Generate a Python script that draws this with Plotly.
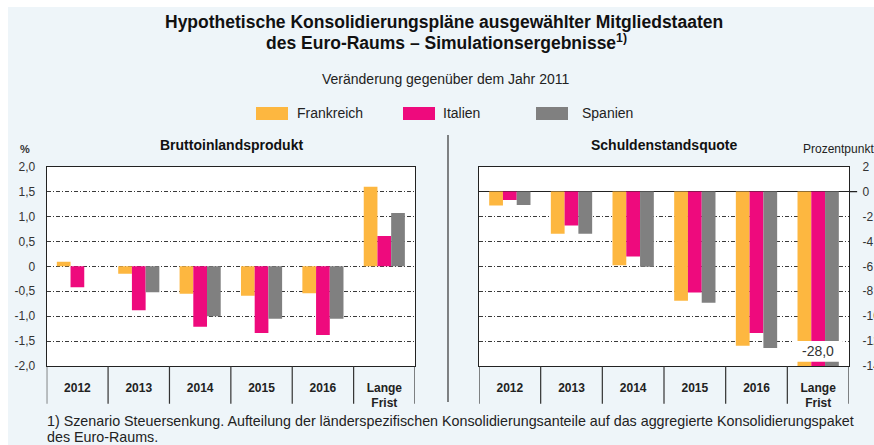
import plotly.graph_objects as go

# data
categories = ["2012", "2013", "2014", "2015", "2016", "Lange<br>Frist"]
countries = ["Frankreich", "Italien", "Spanien"]
colors = ["#FDB740", "#EE0A7D", "#808080"]

bip_frankreich = [0.09, -0.15, -0.55, -0.59, -0.54, 1.60]
bip_italien = [-0.42, -0.88, -1.21, -1.34, -1.38, 0.61]
bip_spanien = [0.0, -0.52, -1.00, -1.05, -1.05, 1.07]

schulden_frankreich = [-1.12, -3.39, -5.92, -8.77, -12.37, -28.0]
schulden_italien = [-0.67, -2.72, -5.20, -8.10, -11.36, -28.0]
schulden_spanien = [-1.07, -3.39, -6.03, -8.93, -12.56, -28.0]

left_ticks = [2.0, 1.5, 1.0, 0.5, 0, -0.5, -1.0, -1.5, -2.0]
left_ticktext = ["2,0", "1,5", "1,0", "0,5", "0", "-0,5", "-1,0", "-1,5", "-2,0"]
right_ticks = [2, 0, -2, -4, -6, -8, -10, -12, -14]
right_ticktext = ["2", "0", "-2", "-4", "-6", "-8", "-10", "-12", "-14"]

W, H = 874, 445
BG = "#EEF5F9"
FONT = "Liberation Sans, Arial, sans-serif"


def px(x):
    return x / W


def py(y):
    return 1 - y / H


fig = go.Figure()

bip = [bip_frankreich, bip_italien, bip_spanien]
schulden = [schulden_frankreich, schulden_italien, schulden_spanien]
for name, col, vals in zip(countries, colors, bip):
    fig.add_trace(go.Bar(x=categories, y=vals, name=name, marker_color=col,
                         marker_line_width=0, xaxis="x", yaxis="y", showlegend=False))
for name, col, vals in zip(countries, colors, schulden):
    fig.add_trace(go.Bar(x=categories, y=vals, name=name, marker_color=col,
                         marker_line_width=0, xaxis="x2", yaxis="y2", showlegend=False))

grid = dict(showgrid=True, gridcolor="#3a3a3a", gridwidth=1, griddash="4px,2px,1px,2px")
xcommon = dict(type="category", range=[-0.5, 5.5], showline=True, linecolor="#222",
               linewidth=1.2, mirror=True, ticks="", showgrid=False,
               tickfont=dict(family=FONT, size=12, color="#222", weight="bold"),
               ticklabelstandoff=10, automargin=False)

fig.update_layout(
    width=W, height=H,
    margin=dict(l=0, r=0, t=0, b=0),
    paper_bgcolor=BG,
    plot_bgcolor="white",
    barmode="group", bargap=0.33, bargroupgap=0,
    font=dict(family=FONT, color="#222"),
    xaxis=dict(domain=[px(46.7), px(415)], anchor="y", **xcommon),
    xaxis2=dict(domain=[px(479), px(849)], anchor="y2", **xcommon),
    yaxis=dict(domain=[py(366), py(166.7)], anchor="x", range=[-2, 2],
               tickvals=left_ticks, ticktext=left_ticktext, zeroline=False,
               showline=True, linecolor="#222", linewidth=1.2, mirror=True, ticks="",
               tickfont=dict(family=FONT, size=12, color="#333"),
               ticklabelstandoff=8, automargin=False, **grid),
    yaxis2=dict(domain=[py(366), py(166.7)], anchor="x2", side="right", range=[-14, 2],
                tickvals=right_ticks, ticktext=right_ticktext,
                zeroline=True, zerolinecolor="#222", zerolinewidth=1.2,
                showline=True, linecolor="#222", linewidth=1.2, mirror=True, ticks="",
                tickfont=dict(family=FONT, size=12, color="#333"),
                ticklabelstandoff=10, automargin=False, **grid),
)

shapes = [
    # white rim at top and left of the panel
    dict(type="rect", xref="paper", yref="paper", x0=0, x1=1, y0=py(7), y1=1,
         fillcolor="white", line_width=0, layer="below"),
    dict(type="rect", xref="paper", yref="paper", x0=0, x1=px(8), y0=0, y1=1,
         fillcolor="white", line_width=0, layer="below"),
    # separator between panels
    dict(type="line", xref="paper", yref="paper", x0=px(448), x1=px(448),
         y0=py(402), y1=py(135), line=dict(color="#333", width=1.2)),
    # break for the long-run bars on the right
    dict(type="rect", xref="x2", yref="y2", x0=4.6, x1=5.4, y0=-13.65, y1=-12.0,
         fillcolor="white", line_width=0, layer="above"),
    # zero tick on the right axis
    dict(type="line", xref="x2 domain", yref="y2", x0=1, x1=1.022, y0=0, y1=0,
         line=dict(color="#222", width=1.2)),
]
# category boxes below each plot
for xr, yr in (("x", "y domain"), ("x2", "y2 domain")):
    for i in range(len(categories) + 1):
        shapes.append(dict(type="line", xref=xr, yref=yr, x0=i - 0.5, x1=i - 0.5,
                           y0=-0.19, y1=0, line=dict(color="#333", width=1.2)))

# legend drawn by hand
legend_x = [256, 403, 536]
legend_tx = [295, 441, 580]
annotations = []
for name, col, sx, tx in zip(countries, colors, legend_x, legend_tx):
    shapes.append(dict(type="rect", xref="paper", yref="paper", x0=px(sx), x1=px(sx + 32),
                       y0=py(120), y1=py(107), fillcolor=col, line_width=0))
    annotations.append(dict(text=name, x=px(tx), y=py(113.5), xref="paper", yref="paper",
                            xanchor="left", yanchor="middle", showarrow=False,
                            font=dict(family=FONT, size=14, color="#222")))

annotations += [
    dict(text="Hypothetische Konsolidierungspläne ausgewählter Mitgliedstaaten",
         x=px(444), y=py(22), xref="paper", yref="paper", showarrow=False,
         xanchor="center", yanchor="middle",
         font=dict(family=FONT, size=17.5, color="#111", weight="bold")),
    dict(text="des Euro-Raums – Simulationsergebnisse<sup>1)</sup>",
         x=px(447), y=py(42), xref="paper", yref="paper", showarrow=False,
         xanchor="center", yanchor="middle",
         font=dict(family=FONT, size=17.5, color="#111", weight="bold")),
    dict(text="Veränderung gegenüber dem Jahr 2011", x=px(445), y=py(79),
         xref="paper", yref="paper", showarrow=False, xanchor="center", yanchor="middle",
         font=dict(family=FONT, size=14, color="#222")),
    dict(text="Bruttoinlandsprodukt", x=px(232), y=py(145), xref="paper", yref="paper",
         showarrow=False, xanchor="center", yanchor="middle",
         font=dict(family=FONT, size=14, color="#111", weight="bold")),
    dict(text="Schuldenstandsquote", x=px(664), y=py(145), xref="paper", yref="paper",
         showarrow=False, xanchor="center", yanchor="middle",
         font=dict(family=FONT, size=14, color="#111", weight="bold")),
    dict(text="%", x=px(18), y=py(149), xref="paper", yref="paper", showarrow=False,
         xanchor="left", yanchor="middle",
         font=dict(family=FONT, size=11, color="#333", weight="bold")),
    dict(text="Prozentpunkte", x=px(801), y=py(149), xref="paper", yref="paper",
         showarrow=False, xanchor="left", yanchor="middle",
         font=dict(family=FONT, size=12, color="#222")),
    dict(text="-28,0", x=5, y=-12.8, xref="x2", yref="y2", showarrow=False,
         xanchor="center", yanchor="middle", font=dict(family=FONT, size=14, color="#333")),
    dict(text="1) Szenario Steuersenkung. Aufteilung der länderspezifischen "
              "Konsolidierungsanteile auf das aggregierte Konsolidierungspaket",
         x=px(45), y=py(421), xref="paper", yref="paper", showarrow=False,
         xanchor="left", yanchor="middle", font=dict(family=FONT, size=14.3, color="#222")),
    dict(text="des Euro-Raums.", x=px(45), y=py(437), xref="paper", yref="paper",
         showarrow=False, xanchor="left", yanchor="middle",
         font=dict(family=FONT, size=14.3, color="#222")),
]

fig.update_layout(shapes=shapes, annotations=annotations)
# drop the page margin so the figure fills the window exactly
fig.write_html("out.html", config={"displayModeBar": False},
               post_script="document.body.style.margin='0';"
                           "document.documentElement.style.overflow='hidden';")
